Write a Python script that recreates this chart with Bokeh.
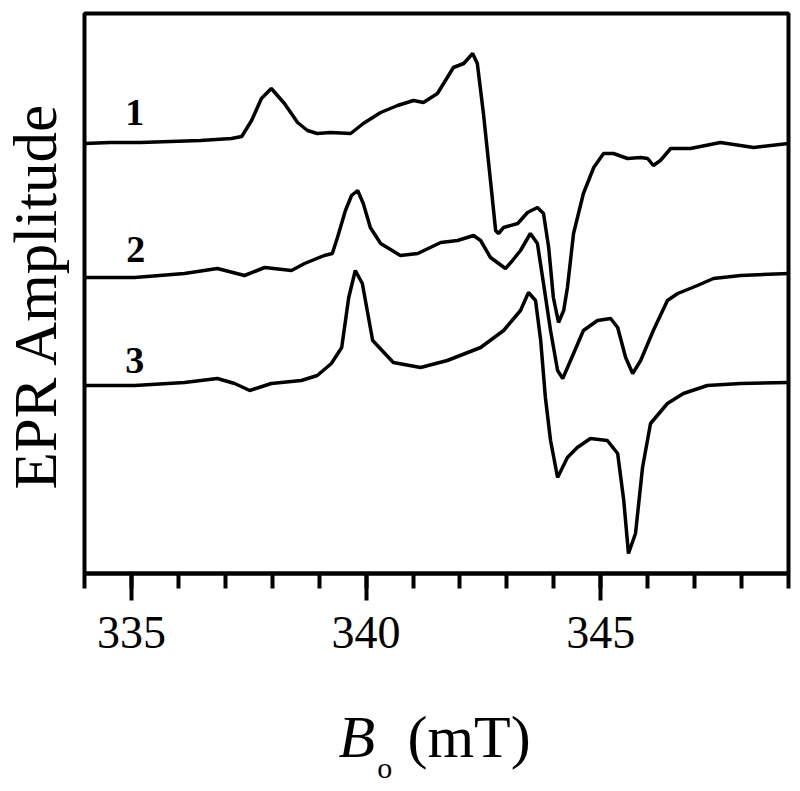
from math import pi
from bokeh.plotting import figure
from bokeh.layouts import row, column
from bokeh.models import Range1d, FixedTicker
from bokeh.core.properties import value
from bokeh.embed import file_html
from bokeh.resources import INLINE

# ---- Data: magnetic field (mT) and EPR amplitude (arb. units,
# ---- relative to each trace's own baseline)
field_1 = [334.00, 334.55, 335.19, 335.83, 336.47, 337.13, 337.35, 337.56, 337.77, 337.98,
           338.26, 338.54, 338.75, 338.96, 339.24, 339.67, 339.94, 340.31, 340.67, 341.01,
           341.22, 341.52, 341.73, 341.86, 342.08, 342.27, 342.37, 342.50, 342.65, 342.76,
           342.82, 342.93, 343.23, 343.44, 343.65, 343.78, 343.89, 343.99, 344.10, 344.21,
           344.29, 344.42, 344.63, 344.85, 345.06, 345.27, 345.57, 345.85, 346.00, 346.12,
           346.27, 346.49, 346.91, 347.55, 348.26, 349.00]
amp_1 = [0, 1, 1, 2, 3, 5, 7, 23, 45, 55,
         40, 21, 13, 10, 11, 10, 20, 31, 38, 43,
         41, 50, 66, 76, 80, 90, 80, 30, -37, -87,
         -90, -84, -80, -69, -64, -70, -104, -154, -179, -167,
         -144, -90, -50, -24, -10, -10, -15, -14, -15, -22,
         -17, -5, -5, 1, -4, 0]

field_2 = [334.00, 335.07, 336.13, 336.83, 337.41, 337.84, 338.41, 338.69, 339.11, 339.28,
           339.39, 339.56, 339.69, 339.82, 339.94, 340.09, 340.31, 340.73, 341.10, 341.59,
           341.95, 342.29, 342.44, 342.65, 342.97, 343.12, 343.29, 343.50, 343.65, 343.78,
           343.93, 344.08, 344.19, 344.42, 344.63, 344.93, 345.21, 345.36, 345.53, 345.68,
           345.85, 346.12, 346.42, 346.64, 347.06, 347.40, 347.98, 349.00]
amp_2 = [-1, -1, 3, 8, 1, 9, 6, 13, 21, 23,
         39, 66, 81, 86, 73, 49, 33, 21, 23, 34,
         36, 41, 36, 19, 8, 16, 26, 43, 33, -7,
         -54, -94, -102, -77, -54, -44, -42, -51, -81, -97,
         -84, -54, -24, -17, -9, -2, 1, 3]

field_3 = [334.00, 335.07, 336.13, 336.83, 337.20, 337.52, 337.98, 338.62, 338.96, 339.26,
           339.48, 339.63, 339.77, 339.92, 340.14, 340.58, 341.16, 341.73, 342.44, 342.93,
           343.29, 343.46, 343.61, 343.72, 343.82, 343.93, 344.08, 344.29, 344.50, 344.78,
           345.14, 345.36, 345.49, 345.59, 345.74, 345.89, 346.06, 346.42, 346.76, 347.27,
           347.98, 349.00]
amp_3 = [-1, -1, 2, 6, 1, -6, 1, 4, 9, 21,
         37, 87, 114, 101, 44, 22, 17, 24, 37, 54,
         74, 92, 84, 44, -13, -56, -93, -73, -63, -54,
         -56, -69, -116, -169, -149, -83, -39, -19, -9, -1,
         1, 2]

trace_offsets = [430, 297, 189]
trace_names = ["1", "2", "3"]
name_field = [335.07, 335.09, 335.07]
name_height = [31, 27, 24]

x_major = [335, 340, 345]
x_minor = list(range(334, 350))

y_title = "EPR Amplitude"
x_title_main = "B"
x_title_sub = "o"
x_title_unit = "(mT)"

SERIF = "Liberation Serif"

# ---------------- main plot ----------------
p = figure(width=718, height=683,
           x_range=Range1d(334, 349), y_range=Range1d(0, 560),
           output_backend="svg", toolbar_location=None,
           y_axis_location=None,
           min_border_left=2, min_border_right=12,
           min_border_top=13, min_border_bottom=110)
p.grid.visible = False
p.background_fill_color = "white"
p.border_fill_color = "white"
p.outline_line_color = "black"
p.outline_line_width = 4
p.outline_line_alpha = 1.0

xa = p.xaxis[0]
xa.ticker = FixedTicker(ticks=x_major, minor_ticks=x_minor)
xa.axis_line_width = 4
xa.axis_line_color = "black"
xa.major_tick_line_width = 4
xa.major_tick_line_color = "black"
xa.major_tick_out = 27
xa.major_tick_in = 0
xa.minor_tick_line_width = 4
xa.minor_tick_line_color = "black"
xa.minor_tick_out = 15
xa.minor_tick_in = 0
xa.major_label_text_font = SERIF
xa.major_label_text_font_size = "46px"
xa.major_label_text_color = "black"
xa.major_label_standoff = 16

traces = [(field_1, amp_1), (field_2, amp_2), (field_3, amp_3)]
for (fx, fy), off in zip(traces, trace_offsets):
    p.line(fx, [v + off for v in fy], line_color="black", line_width=3.5)

p.text(x=name_field, y=[h + o for h, o in zip(name_height, trace_offsets)], text=trace_names,
       text_font=value(SERIF), text_font_style="bold", text_font_size="38px",
       text_align="center", text_baseline="alphabetic", text_color="black")

# ---------------- y-axis title (left strip) ----------------
p_left = figure(width=82, height=791, x_range=Range1d(0, 82), y_range=Range1d(0, 791),
                output_backend="svg", toolbar_location=None,
                x_axis_location=None, y_axis_location=None, min_border=0)
p_left.grid.visible = False
p_left.outline_line_color = None
p_left.text(x=[35], y=[496], text=[y_title], angle=pi / 2,
            text_font=value(SERIF), text_font_size="61px",
            text_align="center", text_baseline="alphabetic", text_color="black")

# ---------------- x-axis title (bottom strip) ----------------
p_bot = figure(width=718, height=108, x_range=Range1d(334, 349), y_range=Range1d(0, 108),
               output_backend="svg", toolbar_location=None,
               x_axis_location=None, y_axis_location=None,
               min_border_left=2, min_border_right=12, min_border_top=0, min_border_bottom=0)
p_bot.grid.visible = False
p_bot.outline_line_color = None
p_bot.text(x=[339.41], y=[55], text=[x_title_main], text_font=value(SERIF),
           text_font_style="italic", text_font_size="60px",
           text_align="left", text_baseline="alphabetic", text_color="black")
p_bot.text(x=[340.24], y=[24], text=[x_title_sub], text_font=value(SERIF),
           text_font_size="30px",
           text_align="left", text_baseline="alphabetic", text_color="black")
p_bot.text(x=[340.88], y=[55], text=[x_title_unit], text_font=value(SERIF),
           text_font_size="60px",
           text_align="left", text_baseline="alphabetic", text_color="black")

layout = row(p_left, column(p, p_bot, spacing=0), spacing=0)

open("out.html", "w").write(file_html(layout, INLINE))
